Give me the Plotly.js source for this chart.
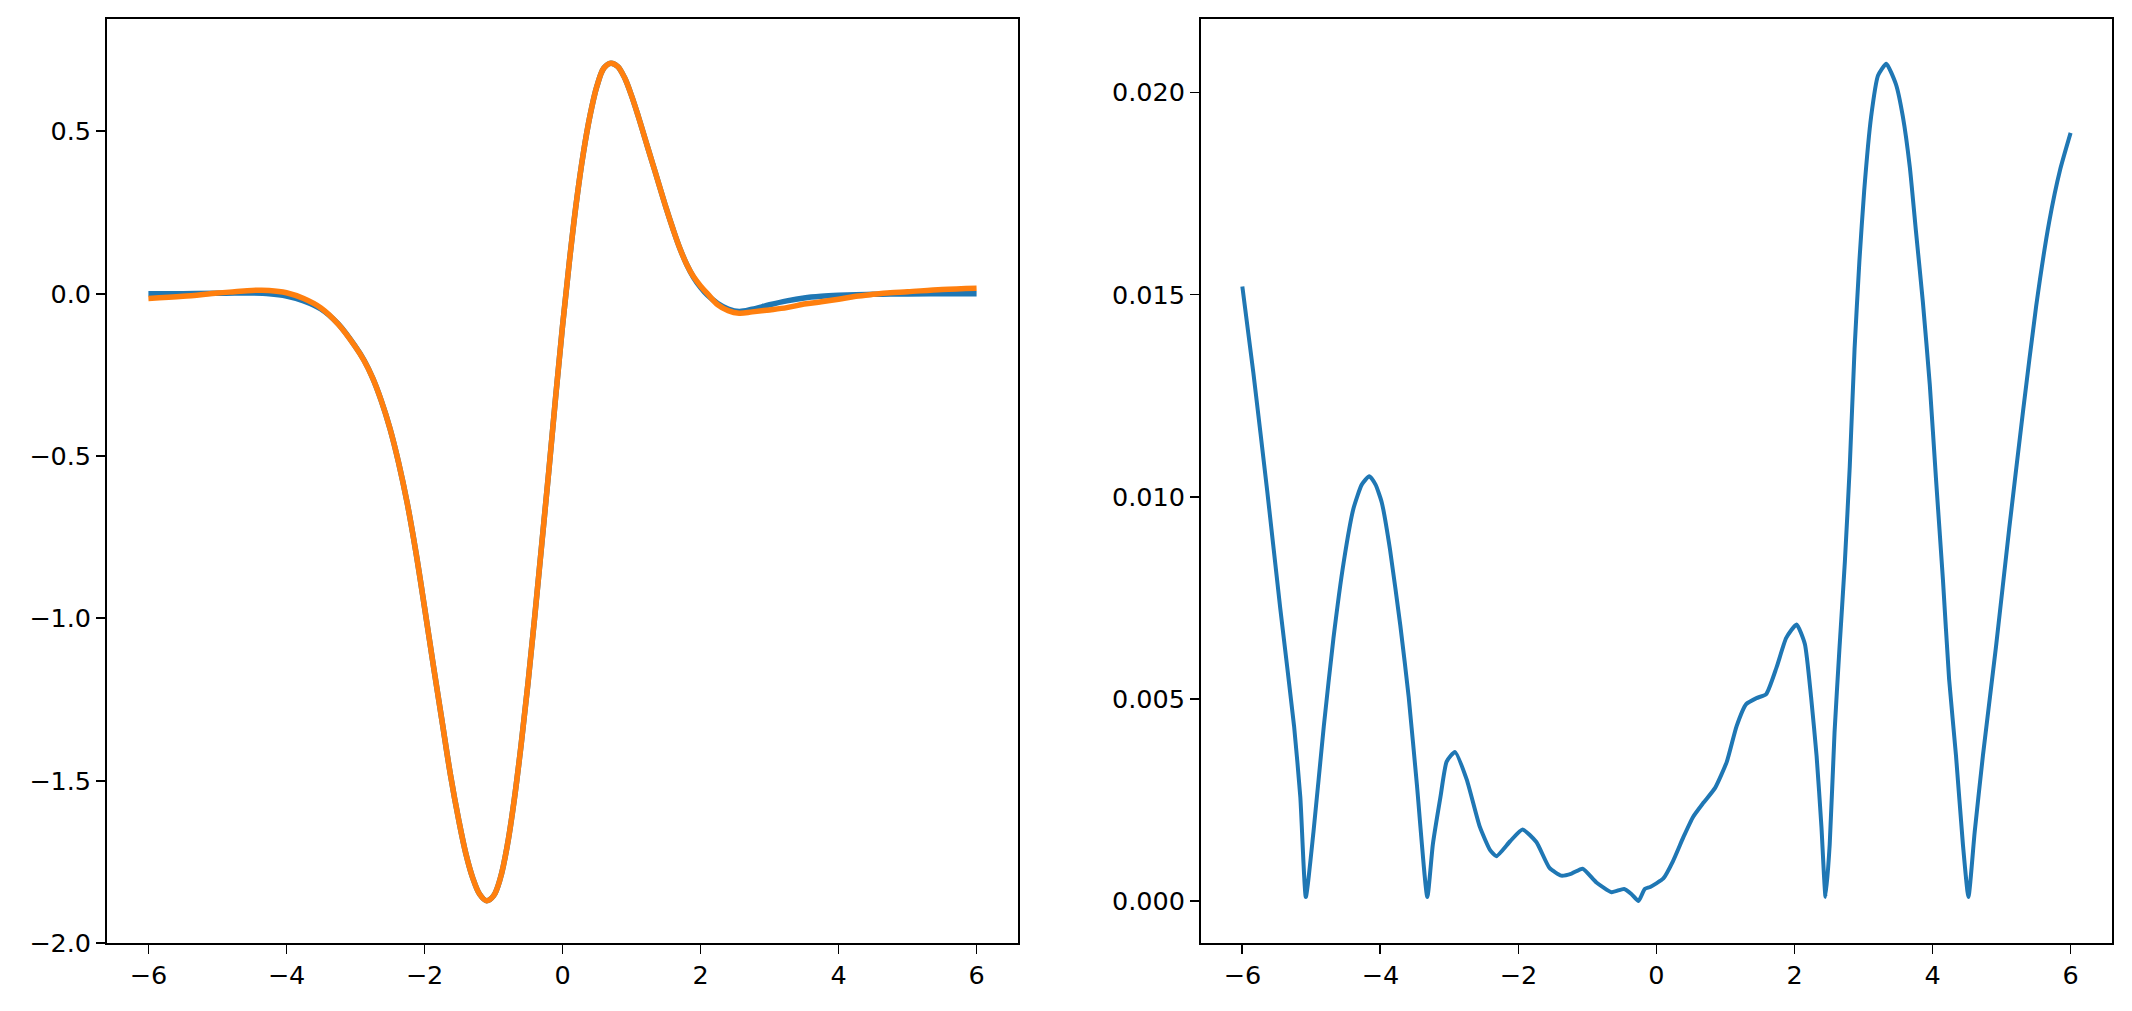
<!DOCTYPE html>
<html><head><meta charset="utf-8">
<script src="https://cdn.plot.ly/plotly-3.0.1.min.js"></script>
<style>html,body{margin:0;padding:0;background:#fff;}#chart{width:2132px;height:1011px;}</style>
</head><body><div id="chart"></div>
<script>
// Left panel: shared x grid
const xLeft = [-6, -5.5, -5, -4.75, -4.5, -4.25, -4, -3.75, -3.5, -3.25, -3, -2.875, -2.75, -2.625, -2.5, -2.375, -2.25, -2.125, -2, -1.875, -1.75, -1.625, -1.5, -1.4, -1.3, -1.2, -1.1, -1.0, -0.9, -0.8, -0.7, -0.6, -0.5, -0.4, -0.3, -0.2, -0.1, 0, 0.1, 0.2, 0.3, 0.4, 0.5, 0.6, 0.7, 0.8, 0.9, 1.0, 1.1, 1.2, 1.3, 1.4, 1.5, 1.6, 1.7, 1.8, 1.9, 2.0, 2.1, 2.25, 2.4, 2.56, 2.75, 3.0, 3.25, 3.5, 3.75, 4, 4.25, 4.5, 4.75, 5, 5.5, 6];
// Blue series (reference function)
const yBlue = [0.000, 0.000, 0.001, 0.002, 0.002, 0.000, -0.007, -0.022, -0.047, -0.093, -0.163, -0.205, -0.26, -0.33, -0.415, -0.52, -0.645, -0.795, -0.965, -1.14, -1.31, -1.48, -1.625, -1.725, -1.80, -1.85, -1.87, -1.855, -1.80, -1.70, -1.56, -1.39, -1.20, -0.99, -0.77, -0.55, -0.32, -0.10, 0.10, 0.28, 0.43, 0.55, 0.64, 0.695, 0.71, 0.70, 0.665, 0.61, 0.545, 0.475, 0.405, 0.335, 0.265, 0.20, 0.14, 0.09, 0.05, 0.02, -0.004, -0.03, -0.047, -0.055, -0.048, -0.034, -0.022, -0.013, -0.008, -0.005, -0.003, -0.002, -0.001, -0.001, 0.000, 0.000];
// Orange series (approximation)
const yOrange = [-0.015, -0.008, 0.002, 0.006, 0.010, 0.010, 0.003, -0.015, -0.044, -0.094, -0.164, -0.206, -0.26, -0.33, -0.415, -0.52, -0.645, -0.795, -0.965, -1.14, -1.31, -1.48, -1.625, -1.725, -1.80, -1.85, -1.87, -1.855, -1.80, -1.70, -1.56, -1.39, -1.20, -0.99, -0.77, -0.55, -0.32, -0.10, 0.10, 0.28, 0.43, 0.55, 0.64, 0.695, 0.71, 0.70, 0.665, 0.61, 0.545, 0.475, 0.405, 0.335, 0.265, 0.20, 0.14, 0.09, 0.052, 0.024, 0.0, -0.034, -0.052, -0.060, -0.056, -0.050, -0.043, -0.032, -0.025, -0.017, -0.008, -0.002, 0.003, 0.006, 0.013, 0.017];
// Right panel: absolute error
const xErr = [-6.0, -5.84, -5.64, -5.45, -5.25, -5.16, -5.08, -4.97, -4.82, -4.68, -4.53, -4.39, -4.27, -4.16, -4.07, -3.98, -3.86, -3.71, -3.59, -3.47, -3.32, -3.24, -3.13, -3.04, -2.92, -2.75, -2.56, -2.41, -2.32, -2.12, -1.94, -1.74, -1.55, -1.38, -1.23, -1.07, -0.87, -0.65, -0.47, -0.36, -0.26, -0.17, -0.09, 0.1, 0.24, 0.39, 0.53, 0.68, 0.85, 1.02, 1.16, 1.3, 1.45, 1.59, 1.74, 1.88, 2.03, 2.15, 2.24, 2.32, 2.39, 2.45, 2.51, 2.58, 2.65, 2.73, 2.8, 2.87, 2.94, 3.01, 3.11, 3.21, 3.33, 3.47, 3.57, 3.67, 3.76, 3.86, 3.96, 4.05, 4.15, 4.24, 4.34, 4.44, 4.52, 4.61, 4.73, 4.92, 5.11, 5.31, 5.5, 5.69, 5.85, 6.0];
const yErr = [0.0152, 0.01306, 0.01015, 0.00723, 0.00432, 0.00257, 0.0001, 0.0017, 0.00432, 0.0065, 0.0084, 0.00971, 0.0103, 0.01051, 0.0103, 0.00986, 0.00869, 0.0068, 0.00505, 0.00286, 0.0001, 0.0014, 0.00257, 0.00345, 0.00369, 0.00301, 0.00184, 0.00126, 0.00111, 0.00148, 0.00177, 0.00146, 0.00082, 0.00063, 0.00068, 0.0008, 0.00046, 0.00022, 0.0003, 0.00017, 0.0, 0.0003, 0.00035, 0.00056, 0.00099, 0.00158, 0.00208, 0.00243, 0.0028, 0.00345, 0.00432, 0.00487, 0.00502, 0.00512, 0.00578, 0.00651, 0.00684, 0.00636, 0.00505, 0.00359, 0.00184, 0.0001, 0.0014, 0.00417, 0.00621, 0.0084, 0.01073, 0.01365, 0.01583, 0.01758, 0.0194, 0.02042, 0.02071, 0.0202, 0.0194, 0.01816, 0.01656, 0.01481, 0.01277, 0.01044, 0.00796, 0.00549, 0.00359, 0.0014, 0.0001, 0.0017, 0.0036, 0.0063, 0.0092, 0.0121, 0.0147, 0.0168, 0.0181, 0.0190];

const xTicks = [-6, -4, -2, 0, 2, 4, 6];
const xTickText = ['\u22126', '\u22124', '\u22122', '0', '2', '4', '6'];
const yTicksL = [-2, -1.5, -1, -0.5, 0, 0.5];
const yTickTextL = ['\u22122.0', '\u22121.5', '\u22121.0', '\u22120.5', '0.0', '0.5'];
const yTicksR = [0, 0.005, 0.01, 0.015, 0.02];
const yTickTextR = ['0.000', '0.005', '0.010', '0.015', '0.020'];

const blue = '#1f77b4', orange = '#ff7f0e';
const traces = [
  {x: xLeft, y: yBlue, mode: 'lines', line: {color: blue, width: 5.5, shape: 'spline', smoothing: 1}, xaxis: 'x', yaxis: 'y', hoverinfo: 'skip'},
  {x: xLeft, y: yOrange, mode: 'lines', line: {color: orange, width: 5.5, shape: 'spline', smoothing: 1}, xaxis: 'x', yaxis: 'y', hoverinfo: 'skip'},
  {x: xErr, y: yErr, mode: 'lines', line: {color: blue, width: 4, shape: 'spline', smoothing: 0.5}, xaxis: 'x2', yaxis: 'y2', hoverinfo: 'skip'}
];
const axBase = {
  showline: true, mirror: true, linecolor: '#000', linewidth: 1.8,
  ticks: 'outside', ticklen: 9, tickwidth: 1.8, tickcolor: '#000',
  showgrid: false, zeroline: false,
  tickfont: {family: 'DejaVu Sans', size: 25.5, color: '#000'}
};
const layout = {
  width: 2132, height: 1011,
  margin: {l: 107, r: 20, t: 19, b: 68, pad: 0},
  paper_bgcolor: '#fff', plot_bgcolor: '#fff',
  showlegend: false,
  xaxis: Object.assign({}, axBase, {domain: [0, 0.45436], range: [-6.6, 6.6], tickvals: xTicks, ticktext: xTickText, anchor: 'y'}),
  yaxis: Object.assign({}, axBase, {domain: [0, 1], range: [-2.0, 0.8461], tickvals: yTicksL, ticktext: yTickTextL, anchor: 'x'}),
  xaxis2: Object.assign({}, axBase, {domain: [0.5456, 1], range: [-6.6, 6.6], tickvals: xTicks, ticktext: xTickText, anchor: 'y2'}),
  yaxis2: Object.assign({}, axBase, {domain: [0, 1], range: [-0.001037, 0.021816], tickvals: yTicksR, ticktext: yTickTextR, anchor: 'x2'})
};
Plotly.newPlot('chart', traces, layout, {staticPlot: true, displayModeBar: false});
</script></body></html>
